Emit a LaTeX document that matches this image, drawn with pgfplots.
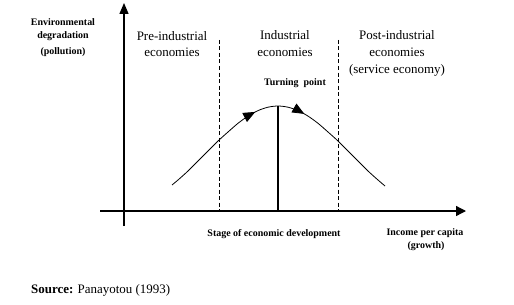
\documentclass[border=0pt]{standalone}
\usepackage{fontspec}
\setmainfont{Liberation Serif}
\usepackage{pgfplots}
\pgfplotsset{compat=1.18}
\usetikzlibrary{arrows.meta,decorations.markings}

% Environmental Kuznets curve, drawn in a 514 x 305 frame (y grows downwards)
\pgfplotstableread{
x    y
172  185
178  180
188  171
198  161
208  151
218  141
228  132
238  123.3
248  116.1
258  110.6
268  107.2
278  106
288  107.2
298  110.6
308  116.1
318  123.3
328  132
338  141
348  151
358  161
368  171
378  180
385  186
}\ekc

\newcommand{\stagefont}{\fontsize{13}{16}\selectfont}
\newcommand{\notefont}{\fontsize{10}{12}\selectfont\bfseries}

\begin{document}
\begin{tikzpicture}
\begin{axis}[
  width=514bp, height=305bp, scale only axis,
  xmin=0, xmax=514, ymin=0, ymax=305, y dir=reverse,
  hide axis, clip=false,
]
\path (axis cs:0,0) rectangle (axis cs:514,305);

% axes
\addplot[black, line width=1.3pt, -{Triangle[length=11bp,width=9bp]}]
  coordinates {(124,226) (124,3)};
\addplot[black, line width=1.3pt, -{Triangle[length=10bp,width=10bp]}]
  coordinates {(100,211) (466,211)};

% stage boundaries
\addplot[black, line width=0.8pt, dash pattern=on 4bp off 2.5bp]
  coordinates {(219,40) (219,211)};
\addplot[black, line width=0.8pt, dash pattern=on 4bp off 2.5bp]
  coordinates {(338,40) (338,211)};

% turning point
\addplot[black, line width=1.8pt] coordinates {(278,106) (278,211)};

% the curve
\addplot[black, line width=0.8pt, smooth,
  postaction={decorate},
  decoration={markings,
    mark=at position 0.41 with {\arrow{Triangle[length=12bp,width=10bp]}},
    mark=at position 0.60 with {\arrow{Triangle[length=12bp,width=10bp]}}}]
  table[x=x,y=y] {\ekc};

% labels
\node[font=\notefont] at (axis cs:63,22) {Environmental};
\node[font=\notefont] at (axis cs:63,36) {degradation};
\node[font=\notefont] at (axis cs:63,52) {(pollution)};

\node[font=\stagefont] at (axis cs:172,36) {Pre-industrial};
\node[font=\stagefont] at (axis cs:172,52) {economies};
\node[font=\stagefont] at (axis cs:285,35) {Industrial};
\node[font=\stagefont] at (axis cs:285,52) {economies};
\node[font=\stagefont] at (axis cs:397,35) {Post-industrial};
\node[font=\stagefont] at (axis cs:397,52) {economies};
\node[font=\stagefont] at (axis cs:397,70) {(service economy)};

\node[font=\notefont] at (axis cs:295,83) {Turning\ \ point};
\node[font=\notefont] at (axis cs:274,234) {Stage of economic development};
\node[font=\notefont] at (axis cs:425,233) {Income per capita};
\node[font=\notefont] at (axis cs:426,246) {(growth)};

\node[font=\stagefont, anchor=west, inner sep=0pt] at (axis cs:31,290)
  {\textbf{Source:} Panayotou (1993)};
\end{axis}
\end{tikzpicture}
\end{document}
